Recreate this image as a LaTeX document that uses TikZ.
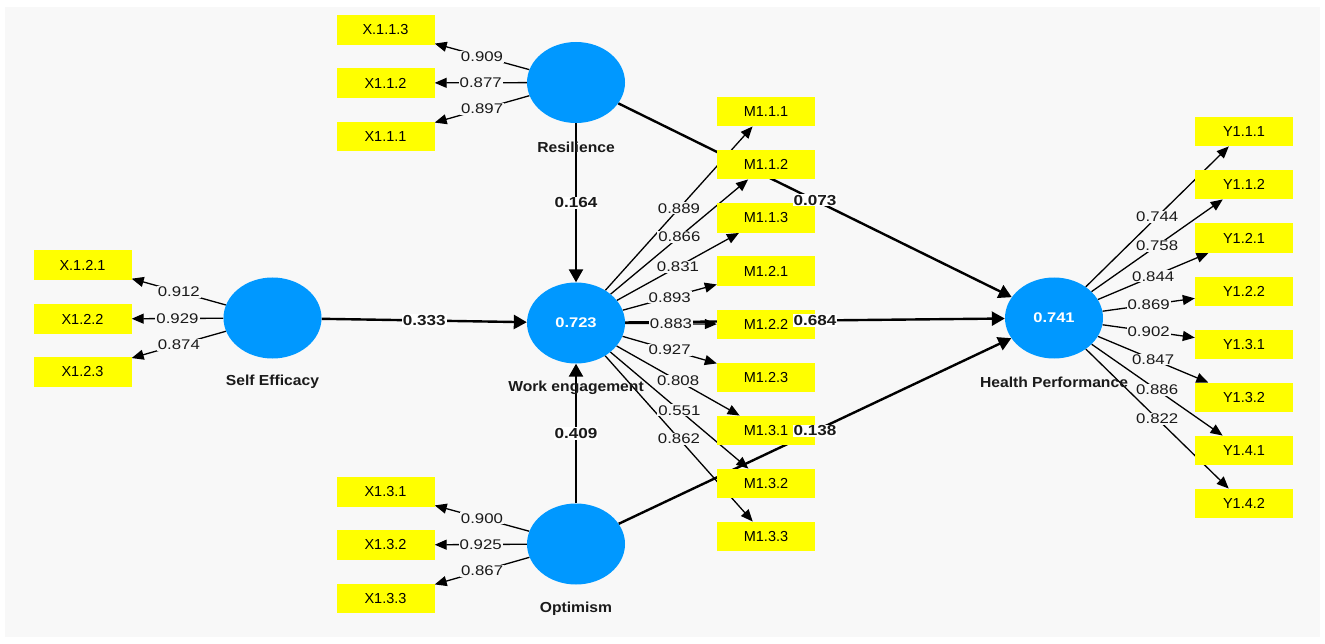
\documentclass[tikz,border=0pt]{standalone}
\usepackage{fontspec}
\setmainfont{Liberation Sans}
\newfontfamily\valfont[FakeStretch=1.2]{Liberation Sans}
\newfontfamily\boxfont{Liberation Sans}
\newfontfamily\namefont[FakeStretch=1.08]{Liberation Sans}
\newfontfamily\coeffont[FakeStretch=1.18]{Liberation Sans}
\usetikzlibrary{shapes.geometric,arrows.meta}
\definecolor{bgc}{HTML}{F8F8F8}
\definecolor{circ}{HTML}{0098FF}
\definecolor{ybox}{HTML}{FFFF00}
\definecolor{txt}{HTML}{1A1A1A}
\pgfdeclarelayer{back}
\pgfdeclarelayer{bg}
\pgfdeclarelayer{fg}
\pgfsetlayers{back,bg,main,fg}
\tikzset{
  lat/.style={ellipse,fill=circ,minimum width=98pt,minimum height=81pt,inner sep=0pt,
    text=white,font=\coeffont\fontsize{14}{16}\selectfont\bfseries},
  ind/.style={rectangle,fill=ybox,minimum width=98pt,minimum height=29.5pt,inner sep=0pt,
    text=black,font=\boxfont\fontsize{14.5}{16}\selectfont},
  lvname/.style={text=txt,font=\namefont\fontsize{14.5}{16}\selectfont\bfseries},
  load/.style={draw=black,line width=1.3pt,-{Triangle[length=12pt,width=10pt]}},
  strc/.style={draw=black,line width=2.4pt,-{Triangle[length=13pt,width=14pt]}},
  lval/.style={fill=bgc,inner sep=1pt,text=txt,font=\valfont\fontsize{14}{16}\selectfont},
  sval/.style={fill=white,inner sep=1pt,text=txt,font=\coeffont\fontsize{14.5}{16}\selectfont\bfseries},
}
\begin{document}
\begin{tikzpicture}[x=1pt,y=-1pt]
\useasboundingbox (0,0) rectangle (1325,644);
\begin{pgfonlayer}{back}
\fill[bgc] (5,7) rectangle (1320,637);
\end{pgfonlayer}
% latent variables
\node[lat] (res) at (576,82.5) {};
\node[lat] (se)  at (272.5,318) {};
\node[lat] (we)  at (576,323) {0.723};
\node[lat] (opt) at (576,544) {};
\node[lat] (hp)  at (1054,318) {0.741};
\node[lvname] (nres) at (576,147) {Resilience};
\node[lvname] (nse)  at (272.5,382) {Self Efficacy};
\node[lvname] (nwe)  at (576,388) {Work engagement};
\node[lvname] (nopt) at (576,609) {Optimism};
\node[lvname] (nhp)  at (1054,382) {Health Performance};
% indicators
\node[ind] (x113) at (385.5,30) {X.1.1.3};
\node[ind] (x112) at (385.5,83) {X1.1.2};
\node[ind] (x111) at (385.5,136.5) {X1.1.1};
\node[ind] (x121) at (82.5,265) {X.1.2.1};
\node[ind] (x122) at (82.5,319) {X1.2.2};
\node[ind] (x123) at (82.5,372) {X1.2.3};
\node[ind] (x131) at (385.5,492) {X1.3.1};
\node[ind] (x132) at (385.5,545) {X1.3.2};
\node[ind] (x133) at (385.5,598.5) {X1.3.3};
\node[ind] (m111) at (766,111.5) {M1.1.1};
\node[ind] (m112) at (766,164.5) {M1.1.2};
\node[ind] (m113) at (766,218) {M1.1.3};
\node[ind] (m121) at (766,271) {M1.2.1};
\node[ind] (m122) at (766,324.5) {M1.2.2};
\node[ind] (m123) at (766,377.5) {M1.2.3};
\node[ind] (m131) at (766,430.5) {M1.3.1};
\node[ind] (m132) at (766,483.5) {M1.3.2};
\node[ind] (m133) at (766,536.5) {M1.3.3};
\node[ind] (y111) at (1244,131.5) {Y1.1.1};
\node[ind] (y112) at (1244,184.5) {Y1.1.2};
\node[ind] (y121) at (1244,238) {Y1.2.1};
\node[ind] (y122) at (1244,291.5) {Y1.2.2};
\node[ind] (y131) at (1244,344.5) {Y1.3.1};
\node[ind] (y132) at (1244,397.5) {Y1.3.2};
\node[ind] (y141) at (1244,450.5) {Y1.4.1};
\node[ind] (y142) at (1244,503.5) {Y1.4.2};
% loadings
\foreach \s/\t/\v in {res/x113/0.909,res/x112/0.877,res/x111/0.897,
  se/x121/0.912,se/x122/0.929,se/x123/0.874,
  opt/x131/0.900,opt/x132/0.925,opt/x133/0.867,
  we/m111/0.889,we/m112/0.866,we/m113/0.831,we/m121/0.893,we/m122/0.883,
  we/m123/0.927,we/m131/0.808,we/m132/0.551,we/m133/0.862,
  hp/y111/0.744,hp/y112/0.758,hp/y121/0.844,hp/y122/0.869,hp/y131/0.902,
  hp/y132/0.847,hp/y141/0.886,hp/y142/0.822}{
  \begin{pgfonlayer}{bg}\draw[load] (\s) -- (\t);\end{pgfonlayer}
  \begin{pgfonlayer}{fg}\path (\s) -- (\t) node[lval,midway]{\v};\end{pgfonlayer}
}
% structural paths
\foreach \s/\t/\v in {se/we/0.333,res/we/0.164,opt/we/0.409,
  res/hp/0.073,we/hp/0.684,opt/hp/0.138}{
  \begin{pgfonlayer}{bg}\draw[strc] (\s) -- (\t);\end{pgfonlayer}
  \begin{pgfonlayer}{fg}\path (\s) -- (\t) node[sval,midway]{\v};\end{pgfonlayer}
}
\end{tikzpicture}
\end{document}
